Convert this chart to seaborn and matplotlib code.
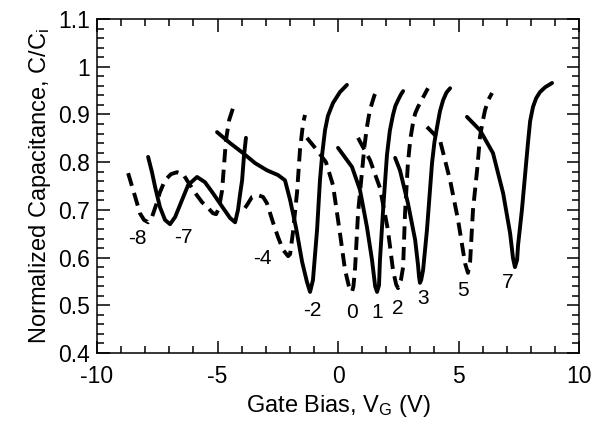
import matplotlib
matplotlib.use("Agg")
import matplotlib.pyplot as plt
import seaborn as sns
import pandas as pd
from matplotlib.ticker import MultipleLocator, FixedLocator, FixedFormatter

# ---- data (V_G in volts, C/Ci) ----
x_m8 = [-8.71, -8.55, -8.38, -8.22, -8.05, -7.88, -7.72, -7.55, -7.39, -7.18, -6.93, -6.68, -6.43,
        -6.14, -5.89, -5.64, -5.39, -5.19, -5.06, -4.94, -4.81, -4.73, -4.65, -4.52, -4.36]
y_m8 = [0.777, 0.750, 0.721, 0.693, 0.679, 0.674, 0.685, 0.710, 0.737, 0.762, 0.775, 0.779, 0.775,
        0.752, 0.733, 0.716, 0.704, 0.693, 0.691, 0.704, 0.741, 0.794, 0.846, 0.888, 0.913]

x_m7 = [-7.88, -7.72, -7.59, -7.39, -7.18, -6.97, -6.76, -6.47, -6.22, -5.85, -5.52, -5.19, -4.77,
        -4.48, -4.27, -4.15, -4.07, -3.98, -3.90, -3.82]
y_m7 = [0.811, 0.779, 0.748, 0.706, 0.679, 0.670, 0.685, 0.721, 0.752, 0.769, 0.758, 0.735, 0.704,
        0.683, 0.674, 0.700, 0.731, 0.762, 0.815, 0.851]

x_m4 = [-3.86, -3.73, -3.57, -3.32, -3.11, -2.95, -2.70, -2.49, -2.28, -2.07, -1.99, -1.87, -1.70,
        -1.58, -1.45, -1.37]
y_m4 = [0.704, 0.714, 0.727, 0.731, 0.727, 0.714, 0.674, 0.643, 0.616, 0.603, 0.607, 0.653, 0.737,
        0.825, 0.882, 0.899]

x_m2 = [-5.02, -4.48, -3.94, -3.44, -2.95, -2.49, -2.20, -1.99, -1.74, -1.49, -1.29, -1.16, -1.04,
        -0.87, -0.75, -0.65, -0.54, -0.42, -0.21, 0.08, 0.37]
y_m2 = [0.863, 0.840, 0.819, 0.798, 0.783, 0.773, 0.762, 0.721, 0.662, 0.591, 0.549, 0.528, 0.553,
        0.658, 0.762, 0.820, 0.867, 0.897, 0.924, 0.947, 0.962]

x_0 = [-1.29, -0.87, -0.50, -0.21, 0.08, 0.29, 0.46, 0.58, 0.64, 0.71, 0.83, 1.00, 1.10, 1.20,
       1.30, 1.41, 1.51, 1.62]
y_0 = [0.851, 0.825, 0.800, 0.752, 0.651, 0.574, 0.538, 0.528, 0.540, 0.580, 0.693, 0.783, 0.835,
       0.874, 0.903, 0.924, 0.940, 0.951]

x_1 = [0.00, 0.58, 0.91, 1.20, 1.41, 1.54, 1.62, 1.70, 1.74, 1.87, 2.03, 2.15, 2.28, 2.38, 2.49,
       2.60, 2.70]
y_1 = [0.830, 0.790, 0.742, 0.664, 0.595, 0.540, 0.528, 0.542, 0.595, 0.700, 0.815, 0.866, 0.899,
       0.918, 0.930, 0.941, 0.949]

x_2 = [0.83, 1.33, 1.74, 2.07, 2.28, 2.41, 2.49, 2.61, 2.70, 2.78, 2.90, 3.00, 3.11, 3.20, 3.32,
       3.53, 3.73]
y_2 = [0.851, 0.804, 0.746, 0.658, 0.574, 0.544, 0.536, 0.553, 0.580, 0.693, 0.798, 0.848, 0.882,
       0.902, 0.916, 0.936, 0.955]

x_3 = [2.37, 2.57, 2.90, 3.20, 3.32, 3.36, 3.40, 3.45, 3.53, 3.69, 3.90, 4.00, 4.11, 4.23, 4.36,
       4.50, 4.65]
y_3 = [0.809, 0.783, 0.714, 0.637, 0.584, 0.560, 0.547, 0.553, 0.574, 0.658, 0.798, 0.842, 0.874,
       0.907, 0.930, 0.946, 0.955]

x_5 = [3.69, 4.23, 4.65, 4.98, 5.27, 5.39, 5.48, 5.60, 5.77, 5.89, 6.00, 6.10, 6.24, 6.39]
y_5 = [0.874, 0.846, 0.762, 0.679, 0.588, 0.568, 0.591, 0.700, 0.783, 0.853, 0.885, 0.909, 0.931,
       0.945]

x_7 = [5.35, 5.89, 6.43, 6.85, 7.14, 7.26, 7.34, 7.43, 7.47, 7.63, 7.88, 7.97, 8.09, 8.22, 8.38,
       8.59, 8.88]
y_7 = [0.895, 0.867, 0.819, 0.735, 0.651, 0.599, 0.580, 0.595, 0.626, 0.700, 0.840, 0.886, 0.916,
       0.934, 0.947, 0.957, 0.966]

curve_names = ["-8", "-7", "-4", "-2", "0", "1", "2", "3", "5", "7"]
curve_x = [x_m8, x_m7, x_m4, x_m2, x_0, x_1, x_2, x_3, x_5, x_7]
curve_y = [y_m8, y_m7, y_m4, y_m2, y_0, y_1, y_2, y_3, y_5, y_7]
curve_dashed = [True, False, True, False, True, False, True, False, True, False]

label_x = [-8.34, -6.43, -3.15, -1.08, 0.58, 1.62, 2.49, 3.53, 5.19, 7.05]
label_y = [0.639, 0.643, 0.599, 0.490, 0.484, 0.484, 0.494, 0.515, 0.532, 0.547]

xticks = [-10, -5, 0, 5, 10]
xticklabels = ["-10", "-5", "0", "5", "10"]
yticks = [0.4, 0.5, 0.6, 0.7, 0.8, 0.9, 1.0, 1.1]
yticklabels = ["0.4", "0.5", "0.6", "0.7", "0.8", "0.9", "1", "1.1"]

# ---- styling ----
sns.set_theme(style="ticks")
plt.rcParams["font.family"] = ["Liberation Sans", "DejaVu Sans"]
plt.rcParams["mathtext.default"] = "regular"
plt.rcParams["axes.unicode_minus"] = False

fig = plt.figure(figsize=(6.16, 4.24), dpi=100)
ax = fig.add_axes([0.1575, 0.1675, 0.7825, 0.7875])

lw = 2.8
for name, xs, ys, dashed in zip(curve_names, curve_x, curve_y, curve_dashed):
    df = pd.DataFrame({"V": xs, "C": ys})
    sns.lineplot(data=df, x="V", y="C", ax=ax, sort=False, estimator=None,
                 color="black", linewidth=lw,
                 linestyle=(0, (3.4, 1.9)) if dashed else "-")

for t, lx, ly in zip(curve_names, label_x, label_y):
    ax.text(lx, ly, t, ha="center", va="center", fontsize=15, color="black")

ax.set_xlim(-10, 10)
ax.set_ylim(0.4, 1.1)
ax.xaxis.set_major_locator(FixedLocator(xticks))
ax.xaxis.set_major_formatter(FixedFormatter(xticklabels))
ax.yaxis.set_major_locator(FixedLocator(yticks))
ax.yaxis.set_major_formatter(FixedFormatter(yticklabels))
ax.xaxis.set_minor_locator(MultipleLocator(1))
ax.yaxis.set_minor_locator(MultipleLocator(0.02))

ax.tick_params(which="both", direction="in", top=True, right=True, colors="black",
               labelsize=16.5, width=1.1)
ax.tick_params(which="major", length=9)
ax.tick_params(which="minor", length=5)
ax.tick_params(axis="x", which="major", pad=9)
ax.tick_params(axis="y", which="major", pad=5)
for s in ax.spines.values():
    s.set_linewidth(1.1)
    s.set_color("black")

ax.set_xlabel("Gate Bias, V$_G$ (V)", fontsize=17, color="black", labelpad=3)
ax.set_ylabel("Normalized Capacitance, C/C$_i$", fontsize=17, color="black", labelpad=4)

fig.savefig("out.png", dpi=100, facecolor="white")
